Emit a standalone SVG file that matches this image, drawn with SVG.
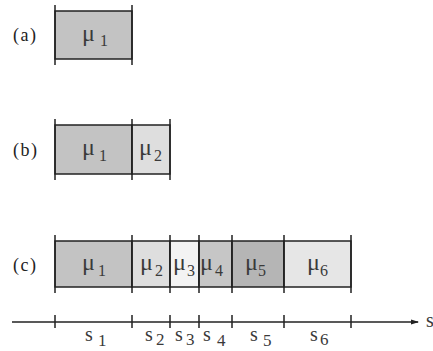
<svg xmlns="http://www.w3.org/2000/svg" width="433" height="351" viewBox="0 0 433 351">
<defs>
<style>
text{font-family:"Liberation Serif","DejaVu Serif",serif;fill:#3a3a3a;font-size:18px}
.lbl{fill:#222;letter-spacing:1.5px}
.mu{font-size:24px}
.sub{font-size:16px}
.s{font-size:20px}
.ssub{font-size:17px}
.cell{stroke:#222;stroke-width:1.5}
.edge{stroke:#222;stroke-width:1.5;fill:none}
</style>
<marker id="arr" markerWidth="8" markerHeight="6" refX="7" refY="3" orient="auto" markerUnits="userSpaceOnUse">
<path d="M0,0.5 L8,3 L0,5.5 z" fill="#222"/>
</marker>
</defs>

<g id="row-a">
<text class="lbl" x="13" y="41">(a)</text>
<rect class="cell" x="55" y="11" width="77" height="48" fill="#c3c3c3"/>
<path class="edge" d="M55,5V65M132,5V65"/>
<text class="mu" x="82" y="41">μ<tspan class="sub" x="100" dy="5">1</tspan></text>
</g>

<g id="row-b">
<text class="lbl" x="13" y="156">(b)</text>
<rect class="cell" x="55" y="125" width="77" height="49" fill="#c3c3c3"/>
<rect class="cell" x="132" y="125" width="38" height="49" fill="#dedede"/>
<path class="edge" d="M55,119V180M132,119V180M170,119V180"/>
<text class="mu" x="82" y="155">μ<tspan class="sub" x="99" dy="6">1</tspan></text>
<text class="mu" x="139" y="155">μ<tspan class="sub" x="154" dy="6">2</tspan></text>
</g>

<g id="row-c">
<text class="lbl" x="13" y="271">(c)</text>
<rect class="cell" x="55" y="241" width="77" height="46" fill="#c3c3c3"/>
<rect class="cell" x="132" y="241" width="38" height="46" fill="#dedede"/>
<rect class="cell" x="170" y="241" width="29" height="46" fill="#f3f3f3"/>
<rect class="cell" x="199" y="241" width="33" height="46" fill="#c6c6c6"/>
<rect class="cell" x="232" y="241" width="52" height="46" fill="#b5b5b5"/>
<rect class="cell" x="284" y="241" width="67" height="46" fill="#e6e6e6"/>
<path class="edge" d="M55,235V293M132,235V293M170,235V293M199,235V293M232,235V293M284,235V293M351,235V293"/>
<text class="mu" x="82" y="270">μ<tspan class="sub" x="98" dy="6">1</tspan></text>
<text class="mu" x="140" y="270">μ<tspan class="sub" x="155" dy="6">2</tspan></text>
<text class="mu" x="173" y="270">μ<tspan class="sub" x="187" dy="6">3</tspan></text>
<text class="mu" x="200" y="270">μ<tspan class="sub" x="215" dy="6">4</tspan></text>
<text class="mu" x="245" y="270">μ<tspan class="sub" x="258" dy="6">5</tspan></text>
<text class="mu" x="307" y="270">μ<tspan class="sub" x="320" dy="6">6</tspan></text>
</g>

<g id="connectors">
<path class="edge" d="M12,322H418" marker-end="url(#arr)"/>
<path class="edge" d="M55,315V328M132,315V328M170,315V328M199,315V328M232,315V328M284,315V328M351,315V328"/>
</g>

<g id="axis-labels">
<text class="s" x="426" y="327">s</text>
<text class="s" x="85" y="341">s<tspan class="ssub" x="98" dy="5">1</tspan></text>
<text class="s" x="145" y="341">s<tspan class="ssub" x="156" dy="4">2</tspan></text>
<text class="s" x="175" y="341">s<tspan class="ssub" x="186" dy="4">3</tspan></text>
<text class="s" x="203" y="341">s<tspan class="ssub" x="217" dy="5">4</tspan></text>
<text class="s" x="250" y="341">s<tspan class="ssub" x="263" dy="5">5</tspan></text>
<text class="s" x="310" y="341">s<tspan class="ssub" x="320" dy="4">6</tspan></text>
</g>
</svg>
